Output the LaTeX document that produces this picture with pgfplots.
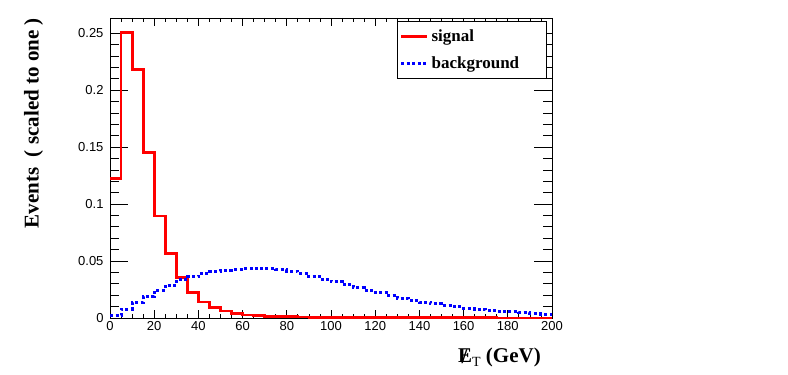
\documentclass[border=0pt]{standalone}
\usepackage{fontspec}
\setmainfont{Liberation Serif}
\newfontfamily\sansf{Liberation Sans}
\usepackage{pgfplots}
\pgfplotsset{compat=1.18}
\pgfplotstableread{
x sig
0 0.1228
5 0.2510
10 0.2185
15 0.1455
20 0.0896
25 0.0568
30 0.0354
35 0.0222
40 0.0141
45 0.0091
50 0.0062
55 0.0041
60 0.0027
65 0.0019
70 0.0015
75 0.0012
80 0.0010
85 0.0008
90 0.0007
95 0.0006
100 0.0005
105 0.0004
110 0.0004
115 0.0003
120 0.0003
125 0.0002
130 0.0002
135 0.0002
140 0.0001
145 0.0001
150 0.0001
155 0.0001
160 0.0001
165 0.0001
170 0.0001
175 0.0000
180 0.0000
185 0.0000
190 0.0000
195 0.0000
200 0.0000
}\sigtable
\pgfplotstableread{
x bkg
0 0.0020
5 0.0078
10 0.0135
15 0.0188
20 0.0240
25 0.0287
30 0.0334
35 0.0362
40 0.0390
45 0.0408
50 0.0420
55 0.0428
60 0.0434
65 0.0438
70 0.0434
75 0.0424
80 0.0410
85 0.0392
90 0.0365
95 0.0338
100 0.0318
105 0.0290
110 0.0264
115 0.0245
120 0.0224
125 0.0199
130 0.0172
135 0.0157
140 0.0139
145 0.0126
150 0.0110
155 0.0100
160 0.0087
165 0.0076
170 0.0068
175 0.0060
180 0.0053
185 0.0045
190 0.0039
195 0.0033
200 0.0033
}\bkgtable
\begin{document}
\begin{tikzpicture}
\useasboundingbox (0,0) rectangle (788bp,375bp);
\begin{axis}[
  at={(110bp,57bp)}, anchor=south west,
  scale only axis, width=442bp, height=300bp,
  xmin=0, xmax=200, ymin=0, ymax=0.2634,
  xtick=\empty,
  ytick={0,0.05,0.1,0.15,0.2,0.25},
  minor y tick num=4,
  yticklabels={}, scaled y ticks=false,
  tick align=inside,
  major tick length=18bp, minor tick length=9bp,
  tick style={line width=0.8bp, black},
  axis line style={draw=none},
]
\end{axis}
\begin{axis}[
  at={(110bp,57bp)}, anchor=south west,
  scale only axis, width=442bp, height=300bp,
  xmin=0, xmax=200, ymin=0, ymax=0.2634,
  clip=false,
  xtick={0,20,40,60,80,100,120,140,160,180,200},
  xticklabels={0,20,40,60,80,100,120,140,160,180,200},
  minor x tick num=3,
  ytick={0,0.05,0.1,0.15,0.2,0.25},
  yticklabels={0,0.05,0.1,0.15,0.2,0.25},
  ytick style={draw=none},
  tick align=inside,
  major tick length=8bp, minor tick length=4bp,
  tick style={line width=0.8bp, black},
  axis line style={line width=0.8bp},
  ticklabel style={font=\sansf\fontsize{13bp}{15bp}\selectfont},
  yticklabel style={xshift=-3bp},
  /pgf/number format/assume math mode=true,
  xlabel={\bfseries\makebox[0pt][l]{\hspace{0.17em}\raisebox{-0.15ex}{/}}E\raisebox{-0.45ex}{\mdseries\fontsize{14bp}{14bp}\selectfont T}\ (GeV)},
  xlabel style={at={(axis description cs:0.975,-0.13)}, anchor=east, inner sep=0pt, font=\fontsize{21bp}{25bp}\selectfont},
  ylabel={\bfseries Events~~( scaled to one )},
  ylabel style={at={(axis description cs:-0.173,1)}, anchor=east, inner sep=0pt, font=\fontsize{21bp}{25bp}\selectfont},
  legend style={at={(rel axis cs:0.9887,0.99)}, anchor=north east, draw=black, line width=0.8bp,
    font=\bfseries\fontsize{17bp}{20bp}\selectfont, cells={anchor=west},
    inner xsep=2bp, inner ysep=2bp, row sep=0pt, nodes={minimum height=26.5bp, inner ysep=0pt, inner xsep=3bp}},
  legend image code/.code={\draw[#1] (0bp,0bp) -- (26bp,0bp);},
]
\addplot[const plot, red, line width=2.8bp, mark=none] table[x=x, y=sig] {\sigtable};
\addlegendentry{\makebox[110bp][l]{signal}}
\addplot[const plot, blue, line width=3bp, dash pattern=on 3bp off 2.5bp, mark=none] table[x=x, y=bkg] {\bkgtable};
\addlegendentry{\makebox[110bp][l]{background}}
\end{axis}
\end{tikzpicture}
\end{document}
